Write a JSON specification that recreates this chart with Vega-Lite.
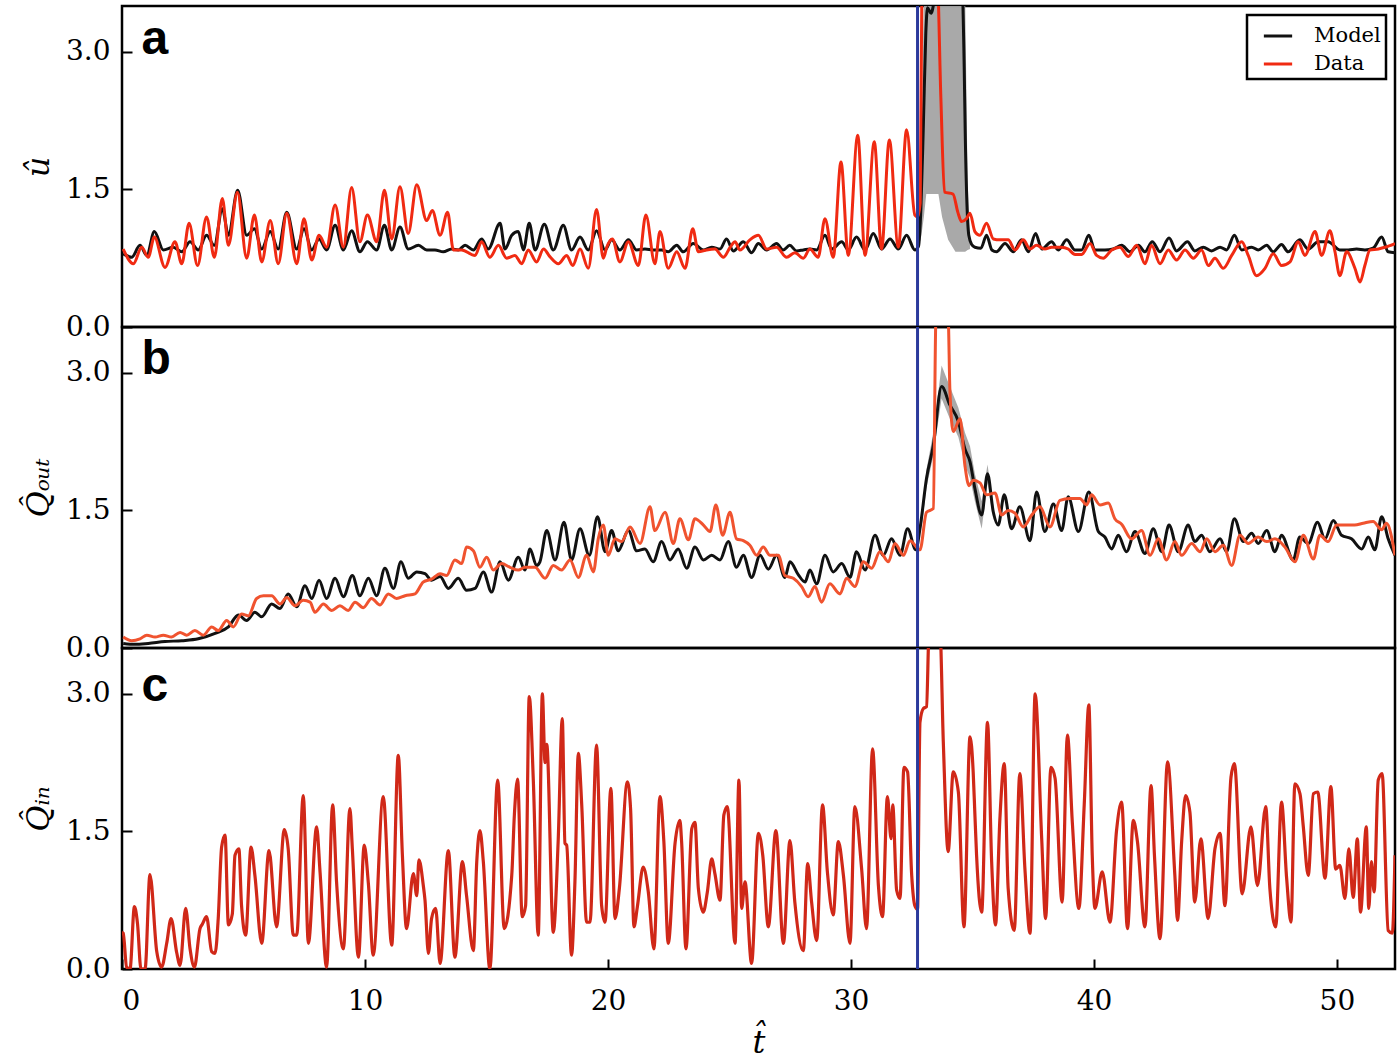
{
"$schema": "https://vega.github.io/schema/vega-lite/v6.json",
"background": "white",
"padding": {"left": 21, "top": 3, "right": 4, "bottom": 0},
"spacing": 0,
"bounds": "flush",
"config": {
  "view": {"stroke": "black", "strokeWidth": 2.5},
  "axis": {"grid": false, "domain": false, "labelFont": "DejaVu Serif", "labelFontSize": 28, "labelColor": "black", "tickColor": "black", "tickWidth": 2, "tickSize": -10, "labelPadding": 22, "titleFont": "DejaVu Serif", "titleFontStyle": "italic", "titleFontWeight": "normal", "titleFontSize": 32, "titleColor": "black", "titlePadding": 10},
  "legend": {"strokeColor": "black", "strokeWidth": 2.5, "fillColor": "white", "padding": 5, "cornerRadius": 0}
},
"datasets": {
  "aModel": [{"t":0.05,"v":0.8},{"t":0.4,"v":0.76},{"t":0.74,"v":0.89},{"t":1.02,"v":0.78},{"t":1.33,"v":1.04},{"t":1.7,"v":0.84},{"t":2.11,"v":0.87},{"t":2.46,"v":0.82},{"t":2.8,"v":0.93},{"t":3.14,"v":0.84},{"t":3.48,"v":1.0},{"t":3.8,"v":0.89},{"t":4.13,"v":1.29},{"t":4.38,"v":1.0},{"t":4.76,"v":1.49},{"t":5.13,"v":1.0},{"t":5.45,"v":1.07},{"t":5.75,"v":0.85},{"t":6.1,"v":1.04},{"t":6.43,"v":0.85},{"t":6.78,"v":1.25},{"t":7.19,"v":0.85},{"t":7.49,"v":1.07},{"t":7.81,"v":0.84},{"t":8.11,"v":0.96},{"t":8.42,"v":0.84},{"t":8.77,"v":1.11},{"t":9.11,"v":0.84},{"t":9.45,"v":1.05},{"t":9.79,"v":0.82},{"t":10.1,"v":0.93},{"t":10.48,"v":0.84},{"t":10.8,"v":1.11},{"t":11.1,"v":0.84},{"t":11.44,"v":1.09},{"t":11.78,"v":0.85},{"t":12.2,"v":0.89},{"t":12.54,"v":0.84},{"t":12.88,"v":0.84},{"t":13.22,"v":0.82},{"t":13.57,"v":0.85},{"t":13.84,"v":0.84},{"t":14.12,"v":0.89},{"t":14.46,"v":0.84},{"t":14.8,"v":0.96},{"t":15.07,"v":0.85},{"t":15.56,"v":1.13},{"t":15.76,"v":0.85},{"t":16.04,"v":1.0},{"t":16.31,"v":1.04},{"t":16.52,"v":0.84},{"t":16.76,"v":1.13},{"t":17.0,"v":0.84},{"t":17.38,"v":1.12},{"t":17.75,"v":0.84},{"t":18.16,"v":1.11},{"t":18.5,"v":0.84},{"t":18.85,"v":0.98},{"t":19.19,"v":0.84},{"t":19.53,"v":1.05},{"t":19.88,"v":0.84},{"t":20.15,"v":0.95},{"t":20.49,"v":0.84},{"t":20.84,"v":0.95},{"t":21.18,"v":0.84},{"t":21.52,"v":0.85},{"t":21.86,"v":0.84},{"t":22.21,"v":0.84},{"t":22.48,"v":0.82},{"t":22.83,"v":0.89},{"t":23.1,"v":0.82},{"t":23.51,"v":0.91},{"t":23.93,"v":0.84},{"t":24.27,"v":0.87},{"t":24.61,"v":0.85},{"t":24.88,"v":0.96},{"t":25.16,"v":0.83},{"t":25.57,"v":0.93},{"t":25.91,"v":0.81},{"t":26.19,"v":0.91},{"t":26.53,"v":0.84},{"t":26.94,"v":0.91},{"t":27.21,"v":0.84},{"t":27.48,"v":0.89},{"t":27.76,"v":0.83},{"t":28.04,"v":0.84},{"t":28.31,"v":0.85},{"t":28.59,"v":0.84},{"t":28.93,"v":1.0},{"t":29.21,"v":0.85},{"t":29.62,"v":0.93},{"t":29.89,"v":0.84},{"t":30.23,"v":0.98},{"t":30.58,"v":0.84},{"t":30.92,"v":1.02},{"t":31.26,"v":0.85},{"t":31.61,"v":0.96},{"t":31.95,"v":0.85},{"t":32.29,"v":1.0},{"t":32.63,"v":0.84},{"t":32.78,"v":0.88},{"t":32.88,"v":1.3},{"t":32.98,"v":2.2},{"t":33.08,"v":3.2},{"t":33.15,"v":3.48},{"t":33.3,"v":3.42},{"t":33.45,"v":3.6},{"t":33.7,"v":4.0},{"t":34.2,"v":4.2},{"t":34.55,"v":3.9},{"t":34.66,"v":2.84},{"t":34.7,"v":2.16},{"t":34.85,"v":1.0},{"t":34.97,"v":0.9},{"t":35.1,"v":0.87},{"t":35.35,"v":0.86},{"t":35.58,"v":1.0},{"t":35.8,"v":0.84},{"t":35.99,"v":0.82},{"t":36.34,"v":0.91},{"t":36.68,"v":0.82},{"t":37.02,"v":0.95},{"t":37.3,"v":0.82},{"t":37.6,"v":1.02},{"t":37.85,"v":0.85},{"t":38.26,"v":0.93},{"t":38.53,"v":0.84},{"t":38.88,"v":0.95},{"t":39.22,"v":0.84},{"t":39.49,"v":0.84},{"t":39.79,"v":1.0},{"t":40.04,"v":0.84},{"t":40.45,"v":0.84},{"t":40.79,"v":0.85},{"t":41.14,"v":0.89},{"t":41.48,"v":0.82},{"t":41.83,"v":0.89},{"t":42.1,"v":0.82},{"t":42.4,"v":0.93},{"t":42.72,"v":0.82},{"t":43.09,"v":0.97},{"t":43.4,"v":0.83},{"t":43.85,"v":0.93},{"t":44.15,"v":0.83},{"t":44.5,"v":0.87},{"t":44.84,"v":0.83},{"t":45.19,"v":0.87},{"t":45.46,"v":0.84},{"t":45.78,"v":1.0},{"t":46.08,"v":0.84},{"t":46.49,"v":0.87},{"t":46.76,"v":0.84},{"t":47.11,"v":0.89},{"t":47.38,"v":0.82},{"t":47.72,"v":0.9},{"t":47.99,"v":0.82},{"t":48.47,"v":0.95},{"t":48.82,"v":0.85},{"t":49.23,"v":0.93},{"t":49.64,"v":0.93},{"t":50.12,"v":0.84},{"t":50.47,"v":0.84},{"t":50.81,"v":0.85},{"t":51.15,"v":0.84},{"t":51.49,"v":0.86},{"t":51.84,"v":0.98},{"t":52.11,"v":0.82},{"t":52.39,"v":0.81}],
  "aData": [{"t":0.05,"v":0.85},{"t":0.47,"v":0.69},{"t":0.81,"v":0.87},{"t":1.08,"v":0.76},{"t":1.33,"v":0.98},{"t":1.77,"v":0.65},{"t":2.18,"v":0.93},{"t":2.46,"v":0.69},{"t":2.76,"v":1.13},{"t":3.11,"v":0.67},{"t":3.48,"v":1.2},{"t":3.8,"v":0.76},{"t":4.13,"v":1.4},{"t":4.38,"v":0.89},{"t":4.75,"v":1.47},{"t":5.13,"v":0.75},{"t":5.45,"v":1.22},{"t":5.75,"v":0.71},{"t":6.1,"v":1.16},{"t":6.43,"v":0.69},{"t":6.78,"v":1.24},{"t":7.19,"v":0.69},{"t":7.49,"v":1.18},{"t":7.81,"v":0.73},{"t":8.11,"v":1.0},{"t":8.42,"v":0.87},{"t":8.77,"v":1.33},{"t":9.11,"v":0.87},{"t":9.45,"v":1.52},{"t":9.79,"v":0.93},{"t":10.1,"v":1.22},{"t":10.48,"v":0.93},{"t":10.8,"v":1.49},{"t":11.1,"v":0.96},{"t":11.44,"v":1.53},{"t":11.78,"v":1.02},{"t":12.13,"v":1.55},{"t":12.54,"v":1.16},{"t":12.77,"v":1.27},{"t":13.09,"v":1.0},{"t":13.4,"v":1.25},{"t":13.64,"v":0.84},{"t":13.98,"v":0.84},{"t":14.53,"v":0.78},{"t":14.8,"v":0.93},{"t":15.14,"v":0.76},{"t":15.49,"v":0.89},{"t":15.83,"v":0.75},{"t":16.17,"v":0.78},{"t":16.45,"v":0.69},{"t":16.72,"v":0.84},{"t":17.06,"v":0.71},{"t":17.35,"v":0.85},{"t":17.6,"v":0.77},{"t":17.96,"v":0.69},{"t":18.3,"v":0.78},{"t":18.55,"v":0.67},{"t":18.85,"v":0.85},{"t":19.19,"v":0.64},{"t":19.53,"v":1.28},{"t":19.81,"v":0.75},{"t":19.95,"v":0.87},{"t":20.18,"v":0.96},{"t":20.49,"v":0.71},{"t":20.84,"v":0.93},{"t":21.25,"v":0.67},{"t":21.56,"v":1.22},{"t":21.93,"v":0.69},{"t":22.14,"v":1.04},{"t":22.48,"v":0.64},{"t":22.83,"v":0.82},{"t":23.17,"v":0.64},{"t":23.49,"v":1.07},{"t":23.72,"v":0.82},{"t":24.06,"v":0.84},{"t":24.4,"v":0.85},{"t":24.75,"v":0.76},{"t":25.03,"v":0.87},{"t":25.23,"v":0.93},{"t":25.43,"v":0.84},{"t":25.84,"v":0.95},{"t":26.19,"v":1.0},{"t":26.53,"v":0.85},{"t":26.94,"v":0.87},{"t":27.35,"v":0.76},{"t":27.69,"v":0.81},{"t":28.04,"v":0.75},{"t":28.31,"v":0.85},{"t":28.65,"v":0.76},{"t":28.93,"v":1.18},{"t":29.27,"v":0.76},{"t":29.59,"v":1.8},{"t":29.89,"v":0.78},{"t":30.28,"v":2.09},{"t":30.58,"v":0.78},{"t":30.96,"v":2.02},{"t":31.26,"v":0.85},{"t":31.58,"v":2.04},{"t":31.95,"v":0.87},{"t":32.29,"v":2.15},{"t":32.63,"v":1.22},{"t":32.74,"v":1.2},{"t":32.85,"v":1.35},{"t":32.92,"v":3.7},{"t":33.55,"v":3.8},{"t":33.7,"v":2.5},{"t":33.85,"v":1.47},{"t":34.2,"v":1.45},{"t":34.4,"v":1.25},{"t":34.55,"v":1.15},{"t":34.75,"v":1.18},{"t":34.9,"v":1.24},{"t":35.1,"v":1.04},{"t":35.31,"v":1.0},{"t":35.58,"v":1.13},{"t":35.86,"v":0.96},{"t":36.13,"v":0.95},{"t":36.47,"v":0.95},{"t":36.75,"v":0.84},{"t":37.09,"v":0.95},{"t":37.37,"v":0.85},{"t":37.64,"v":0.89},{"t":37.98,"v":0.85},{"t":38.26,"v":0.87},{"t":38.67,"v":0.87},{"t":38.94,"v":0.85},{"t":39.22,"v":0.79},{"t":39.49,"v":0.79},{"t":39.84,"v":0.91},{"t":40.11,"v":0.78},{"t":40.38,"v":0.75},{"t":40.73,"v":0.84},{"t":41.07,"v":0.87},{"t":41.41,"v":0.77},{"t":41.76,"v":0.89},{"t":42.1,"v":0.69},{"t":42.37,"v":0.89},{"t":42.72,"v":0.69},{"t":43.06,"v":0.84},{"t":43.4,"v":0.73},{"t":43.75,"v":0.84},{"t":44.09,"v":0.75},{"t":44.43,"v":0.84},{"t":44.71,"v":0.67},{"t":44.98,"v":0.75},{"t":45.32,"v":0.64},{"t":45.67,"v":0.78},{"t":46.08,"v":0.93},{"t":46.35,"v":0.78},{"t":46.69,"v":0.56},{"t":47.04,"v":0.64},{"t":47.38,"v":0.8},{"t":47.72,"v":0.67},{"t":48.07,"v":0.71},{"t":48.41,"v":0.93},{"t":48.68,"v":0.78},{"t":49.1,"v":1.04},{"t":49.37,"v":0.78},{"t":49.71,"v":1.05},{"t":49.92,"v":0.82},{"t":50.12,"v":0.56},{"t":50.4,"v":0.82},{"t":50.74,"v":0.64},{"t":50.95,"v":0.49},{"t":51.15,"v":0.67},{"t":51.36,"v":0.84},{"t":51.71,"v":0.85},{"t":51.98,"v":0.87},{"t":52.39,"v":0.91}],
  "aBand": [{"t":32.76,"v":0.84,"v2":0.9},{"t":32.9,"v":1.0,"v2":2.0},{"t":33.0,"v":1.2,"v2":3.6},{"t":33.1,"v":1.45,"v2":3.6},{"t":33.6,"v":1.45,"v2":3.6},{"t":33.75,"v":1.2,"v2":3.6},{"t":34.0,"v":0.95,"v2":3.6},{"t":34.3,"v":0.82,"v2":3.6},{"t":34.7,"v":0.82,"v2":3.6},{"t":34.8,"v":0.84,"v2":1.6},{"t":34.9,"v":0.85,"v2":0.95}],
  "bModel": [{"t":0.05,"v":0.05},{"t":0.53,"v":0.04},{"t":1.08,"v":0.05},{"t":1.77,"v":0.07},{"t":2.46,"v":0.08},{"t":3.14,"v":0.1},{"t":3.83,"v":0.16},{"t":4.38,"v":0.23},{"t":4.79,"v":0.36},{"t":5.13,"v":0.3},{"t":5.47,"v":0.39},{"t":5.75,"v":0.34},{"t":6.16,"v":0.48},{"t":6.5,"v":0.43},{"t":6.84,"v":0.59},{"t":7.19,"v":0.45},{"t":7.53,"v":0.68},{"t":7.81,"v":0.54},{"t":8.11,"v":0.74},{"t":8.42,"v":0.54},{"t":8.77,"v":0.76},{"t":9.11,"v":0.56},{"t":9.48,"v":0.79},{"t":9.79,"v":0.57},{"t":10.14,"v":0.76},{"t":10.48,"v":0.57},{"t":10.82,"v":0.87},{"t":11.17,"v":0.65},{"t":11.48,"v":0.94},{"t":11.78,"v":0.76},{"t":12.13,"v":0.83},{"t":12.47,"v":0.81},{"t":12.74,"v":0.74},{"t":13.09,"v":0.78},{"t":13.43,"v":0.65},{"t":13.84,"v":0.76},{"t":14.18,"v":0.63},{"t":14.53,"v":0.65},{"t":14.87,"v":0.83},{"t":15.21,"v":0.61},{"t":15.56,"v":0.94},{"t":15.9,"v":0.74},{"t":16.31,"v":0.99},{"t":16.58,"v":0.85},{"t":16.79,"v":1.08},{"t":17.06,"v":0.9},{"t":17.2,"v":0.94},{"t":17.48,"v":1.28},{"t":17.82,"v":0.96},{"t":18.19,"v":1.37},{"t":18.5,"v":0.96},{"t":18.85,"v":1.3},{"t":19.23,"v":1.01},{"t":19.57,"v":1.43},{"t":19.88,"v":1.05},{"t":20.15,"v":1.28},{"t":20.42,"v":1.06},{"t":20.84,"v":1.28},{"t":21.18,"v":1.06},{"t":21.52,"v":1.08},{"t":21.86,"v":0.94},{"t":22.21,"v":1.16},{"t":22.55,"v":0.96},{"t":22.89,"v":1.08},{"t":23.24,"v":0.87},{"t":23.58,"v":1.1},{"t":23.93,"v":0.96},{"t":24.27,"v":1.01},{"t":24.61,"v":0.96},{"t":24.95,"v":1.16},{"t":25.29,"v":0.88},{"t":25.57,"v":1.01},{"t":25.91,"v":0.77},{"t":26.26,"v":1.01},{"t":26.6,"v":0.86},{"t":26.94,"v":1.01},{"t":27.28,"v":0.77},{"t":27.49,"v":0.94},{"t":27.83,"v":0.8},{"t":28.11,"v":0.72},{"t":28.31,"v":0.85},{"t":28.59,"v":0.7},{"t":28.93,"v":1.01},{"t":29.27,"v":0.83},{"t":29.62,"v":0.92},{"t":29.96,"v":0.77},{"t":30.23,"v":1.05},{"t":30.58,"v":0.85},{"t":30.99,"v":1.23},{"t":31.33,"v":1.01},{"t":31.67,"v":1.19},{"t":32.02,"v":1.01},{"t":32.33,"v":1.3},{"t":32.67,"v":1.07},{"t":32.84,"v":1.3},{"t":33.11,"v":1.85},{"t":33.39,"v":2.21},{"t":33.73,"v":2.85},{"t":34.07,"v":2.65},{"t":34.42,"v":2.47},{"t":34.69,"v":2.17},{"t":34.9,"v":2.03},{"t":35.1,"v":1.74},{"t":35.38,"v":1.45},{"t":35.62,"v":1.9},{"t":35.86,"v":1.48},{"t":36.06,"v":1.34},{"t":36.31,"v":1.67},{"t":36.61,"v":1.3},{"t":36.95,"v":1.54},{"t":37.37,"v":1.17},{"t":37.64,"v":1.7},{"t":37.98,"v":1.27},{"t":38.33,"v":1.57},{"t":38.67,"v":1.28},{"t":38.94,"v":1.65},{"t":39.36,"v":1.27},{"t":39.79,"v":1.7},{"t":40.18,"v":1.27},{"t":40.45,"v":1.21},{"t":40.73,"v":1.08},{"t":41.0,"v":1.23},{"t":41.34,"v":1.05},{"t":41.69,"v":1.27},{"t":42.1,"v":1.03},{"t":42.44,"v":1.3},{"t":42.79,"v":1.05},{"t":43.09,"v":1.34},{"t":43.47,"v":1.05},{"t":43.88,"v":1.34},{"t":44.15,"v":1.16},{"t":44.43,"v":1.23},{"t":44.77,"v":1.05},{"t":45.19,"v":1.19},{"t":45.46,"v":1.05},{"t":45.78,"v":1.41},{"t":46.15,"v":1.16},{"t":46.49,"v":1.25},{"t":46.76,"v":1.14},{"t":47.11,"v":1.28},{"t":47.45,"v":1.05},{"t":47.72,"v":1.23},{"t":48.2,"v":0.96},{"t":48.47,"v":1.21},{"t":48.82,"v":1.14},{"t":49.2,"v":1.37},{"t":49.51,"v":1.19},{"t":49.85,"v":1.39},{"t":50.19,"v":1.23},{"t":50.6,"v":1.19},{"t":51.02,"v":1.08},{"t":51.29,"v":1.21},{"t":51.56,"v":1.07},{"t":51.84,"v":1.43},{"t":52.11,"v":1.19},{"t":52.39,"v":1.01}],
  "bData": [{"t":0.05,"v":0.12},{"t":0.4,"v":0.08},{"t":0.74,"v":0.1},{"t":1.02,"v":0.14},{"t":1.36,"v":0.12},{"t":1.7,"v":0.14},{"t":2.04,"v":0.12},{"t":2.39,"v":0.17},{"t":2.66,"v":0.14},{"t":3.0,"v":0.19},{"t":3.35,"v":0.14},{"t":3.69,"v":0.23},{"t":3.96,"v":0.19},{"t":4.31,"v":0.3},{"t":4.58,"v":0.23},{"t":4.92,"v":0.37},{"t":5.2,"v":0.35},{"t":5.54,"v":0.54},{"t":5.82,"v":0.57},{"t":6.16,"v":0.57},{"t":6.5,"v":0.48},{"t":6.78,"v":0.55},{"t":7.12,"v":0.46},{"t":7.46,"v":0.52},{"t":7.74,"v":0.5},{"t":7.94,"v":0.39},{"t":8.29,"v":0.48},{"t":8.63,"v":0.41},{"t":8.97,"v":0.46},{"t":9.31,"v":0.41},{"t":9.59,"v":0.5},{"t":9.93,"v":0.44},{"t":10.27,"v":0.54},{"t":10.62,"v":0.47},{"t":10.96,"v":0.59},{"t":11.3,"v":0.54},{"t":11.65,"v":0.57},{"t":12.06,"v":0.59},{"t":12.4,"v":0.72},{"t":12.74,"v":0.75},{"t":13.09,"v":0.81},{"t":13.36,"v":0.79},{"t":13.7,"v":0.96},{"t":13.98,"v":0.92},{"t":14.18,"v":1.1},{"t":14.46,"v":1.06},{"t":14.73,"v":0.88},{"t":15.01,"v":0.99},{"t":15.28,"v":0.85},{"t":15.62,"v":0.92},{"t":15.97,"v":0.88},{"t":16.31,"v":0.85},{"t":16.58,"v":0.88},{"t":17.0,"v":0.88},{"t":17.41,"v":0.76},{"t":17.75,"v":0.9},{"t":18.09,"v":0.85},{"t":18.44,"v":0.96},{"t":18.78,"v":0.77},{"t":19.12,"v":1.01},{"t":19.4,"v":0.83},{"t":19.6,"v":1.19},{"t":19.81,"v":1.34},{"t":20.01,"v":1.01},{"t":20.29,"v":1.19},{"t":20.56,"v":1.16},{"t":20.91,"v":1.32},{"t":21.32,"v":1.14},{"t":21.73,"v":1.54},{"t":21.93,"v":1.28},{"t":22.35,"v":1.48},{"t":22.69,"v":1.14},{"t":22.96,"v":1.41},{"t":23.31,"v":1.18},{"t":23.58,"v":1.41},{"t":23.93,"v":1.34},{"t":24.2,"v":1.27},{"t":24.44,"v":1.56},{"t":24.72,"v":1.23},{"t":25.02,"v":1.48},{"t":25.29,"v":1.19},{"t":25.57,"v":1.17},{"t":25.84,"v":1.12},{"t":26.12,"v":1.01},{"t":26.39,"v":1.1},{"t":26.67,"v":1.01},{"t":27.01,"v":1.01},{"t":27.28,"v":0.79},{"t":27.63,"v":0.76},{"t":27.97,"v":0.67},{"t":28.24,"v":0.56},{"t":28.52,"v":0.67},{"t":28.79,"v":0.5},{"t":29.13,"v":0.7},{"t":29.55,"v":0.59},{"t":29.82,"v":0.76},{"t":30.16,"v":0.67},{"t":30.51,"v":0.94},{"t":30.85,"v":0.87},{"t":31.19,"v":1.05},{"t":31.54,"v":0.94},{"t":31.81,"v":1.14},{"t":32.16,"v":1.01},{"t":32.43,"v":1.17},{"t":32.84,"v":1.07},{"t":33.11,"v":1.48},{"t":33.39,"v":1.52},{"t":33.5,"v":3.6},{"t":34.0,"v":3.6},{"t":34.07,"v":2.83},{"t":34.21,"v":2.36},{"t":34.49,"v":2.5},{"t":34.69,"v":1.99},{"t":34.86,"v":1.77},{"t":35.03,"v":1.83},{"t":35.31,"v":1.8},{"t":35.58,"v":1.67},{"t":35.93,"v":1.69},{"t":36.2,"v":1.45},{"t":36.47,"v":1.5},{"t":36.75,"v":1.47},{"t":37.09,"v":1.32},{"t":37.44,"v":1.45},{"t":37.78,"v":1.54},{"t":38.19,"v":1.32},{"t":38.6,"v":1.61},{"t":39.01,"v":1.63},{"t":39.42,"v":1.63},{"t":39.7,"v":1.56},{"t":39.9,"v":1.67},{"t":40.25,"v":1.56},{"t":40.59,"v":1.58},{"t":40.86,"v":1.41},{"t":41.14,"v":1.35},{"t":41.55,"v":1.19},{"t":41.96,"v":1.28},{"t":42.31,"v":1.01},{"t":42.65,"v":1.19},{"t":42.99,"v":0.96},{"t":43.33,"v":1.16},{"t":43.61,"v":1.01},{"t":44.02,"v":1.14},{"t":44.37,"v":1.05},{"t":44.64,"v":1.19},{"t":44.98,"v":1.05},{"t":45.32,"v":1.12},{"t":45.67,"v":0.9},{"t":46.01,"v":1.23},{"t":46.35,"v":1.14},{"t":46.76,"v":1.21},{"t":47.11,"v":1.16},{"t":47.45,"v":1.19},{"t":47.86,"v":1.1},{"t":48.27,"v":0.94},{"t":48.62,"v":1.23},{"t":49.03,"v":0.97},{"t":49.3,"v":1.23},{"t":49.64,"v":1.16},{"t":49.99,"v":1.34},{"t":50.33,"v":1.34},{"t":50.73,"v":1.34},{"t":51.08,"v":1.36},{"t":51.49,"v":1.38},{"t":51.84,"v":1.29},{"t":52.04,"v":1.36},{"t":52.39,"v":1.01}],
  "bBand": [{"t":32.9,"v":1.3,"v2":1.4},{"t":33.11,"v":1.75,"v2":1.95},{"t":33.39,"v":2.1,"v2":2.35},{"t":33.73,"v":2.72,"v2":3.08},{"t":34.07,"v":2.5,"v2":2.85},{"t":34.42,"v":2.3,"v2":2.62},{"t":34.69,"v":2.0,"v2":2.35},{"t":34.9,"v":1.85,"v2":2.2},{"t":35.1,"v":1.6,"v2":1.9},{"t":35.38,"v":1.3,"v2":1.6},{"t":35.62,"v":1.8,"v2":2.0},{"t":35.86,"v":1.4,"v2":1.55}],
  "cData": [{"t":0.0,"v":0.4},{"t":0.05,"v":0.39},{"t":0.19,"v":0.02},{"t":0.33,"v":0.0},{"t":0.51,"v":0.68},{"t":0.64,"v":0.49},{"t":0.78,"v":0.0},{"t":0.95,"v":0.0},{"t":1.15,"v":1.03},{"t":1.43,"v":0.19},{"t":1.63,"v":0.02},{"t":1.84,"v":0.28},{"t":2.02,"v":0.55},{"t":2.25,"v":0.18},{"t":2.39,"v":0.04},{"t":2.62,"v":0.66},{"t":2.8,"v":0.22},{"t":2.98,"v":0.02},{"t":3.21,"v":0.44},{"t":3.31,"v":0.49},{"t":3.48,"v":0.57},{"t":3.69,"v":0.19},{"t":3.83,"v":0.17},{"t":3.96,"v":0.55},{"t":4.1,"v":1.33},{"t":4.24,"v":1.46},{"t":4.38,"v":0.48},{"t":4.54,"v":0.6},{"t":4.65,"v":1.24},{"t":4.81,"v":1.31},{"t":4.92,"v":0.69},{"t":5.09,"v":0.37},{"t":5.31,"v":1.33},{"t":5.47,"v":1.02},{"t":5.75,"v":0.28},{"t":6.05,"v":1.29},{"t":6.36,"v":0.46},{"t":6.68,"v":1.52},{"t":6.84,"v":1.31},{"t":7.05,"v":0.37},{"t":7.19,"v":0.37},{"t":7.46,"v":1.89},{"t":7.67,"v":0.28},{"t":8.01,"v":1.55},{"t":8.15,"v":1.06},{"t":8.42,"v":0.02},{"t":8.67,"v":1.79},{"t":8.83,"v":0.95},{"t":9.11,"v":0.22},{"t":9.38,"v":1.75},{"t":9.48,"v":1.31},{"t":9.73,"v":0.13},{"t":9.97,"v":1.35},{"t":10.14,"v":0.93},{"t":10.34,"v":0.15},{"t":10.75,"v":1.88},{"t":11.1,"v":0.26},{"t":11.37,"v":2.33},{"t":11.54,"v":1.24},{"t":11.71,"v":0.44},{"t":11.99,"v":1.04},{"t":12.13,"v":0.8},{"t":12.22,"v":1.19},{"t":12.4,"v":0.91},{"t":12.47,"v":0.75},{"t":12.61,"v":0.17},{"t":12.74,"v":0.55},{"t":12.91,"v":0.66},{"t":13.09,"v":0.06},{"t":13.43,"v":1.29},{"t":13.7,"v":0.13},{"t":14.01,"v":1.17},{"t":14.18,"v":0.8},{"t":14.46,"v":0.2},{"t":14.6,"v":1.17},{"t":14.73,"v":1.51},{"t":14.87,"v":1.17},{"t":15.14,"v":0.0},{"t":15.46,"v":2.06},{"t":15.73,"v":0.44},{"t":16.04,"v":1.02},{"t":16.15,"v":1.69},{"t":16.28,"v":2.07},{"t":16.47,"v":0.57},{"t":16.61,"v":0.69},{"t":16.76,"v":2.97},{"t":16.93,"v":2.04},{"t":17.13,"v":0.37},{"t":17.3,"v":3.0},{"t":17.41,"v":2.25},{"t":17.48,"v":2.45},{"t":17.75,"v":0.4},{"t":17.95,"v":1.39},{"t":18.12,"v":2.73},{"t":18.23,"v":1.37},{"t":18.3,"v":1.35},{"t":18.5,"v":0.15},{"t":18.64,"v":0.95},{"t":18.78,"v":2.35},{"t":18.92,"v":1.79},{"t":19.12,"v":0.51},{"t":19.26,"v":0.51},{"t":19.53,"v":2.44},{"t":19.74,"v":0.69},{"t":19.88,"v":0.51},{"t":20.12,"v":1.97},{"t":20.29,"v":0.55},{"t":20.47,"v":0.88},{"t":20.8,"v":2.04},{"t":20.93,"v":1.75},{"t":21.07,"v":0.46},{"t":21.21,"v":0.68},{"t":21.45,"v":1.11},{"t":21.66,"v":0.84},{"t":21.89,"v":0.22},{"t":22.14,"v":1.88},{"t":22.3,"v":1.39},{"t":22.48,"v":0.28},{"t":22.76,"v":1.37},{"t":22.96,"v":1.62},{"t":23.03,"v":1.39},{"t":23.21,"v":0.22},{"t":23.45,"v":1.53},{"t":23.58,"v":1.6},{"t":23.72,"v":0.88},{"t":23.92,"v":0.62},{"t":24.09,"v":0.84},{"t":24.27,"v":1.2},{"t":24.4,"v":1.04},{"t":24.61,"v":0.75},{"t":24.77,"v":1.68},{"t":24.91,"v":1.77},{"t":25.23,"v":0.28},{"t":25.39,"v":2.06},{"t":25.5,"v":0.66},{"t":25.64,"v":0.95},{"t":25.91,"v":0.06},{"t":26.19,"v":1.48},{"t":26.37,"v":1.24},{"t":26.6,"v":0.46},{"t":26.91,"v":1.51},{"t":27.22,"v":0.28},{"t":27.49,"v":1.4},{"t":27.69,"v":0.73},{"t":28.04,"v":0.2},{"t":28.22,"v":1.15},{"t":28.38,"v":0.73},{"t":28.59,"v":0.31},{"t":28.83,"v":1.79},{"t":29.03,"v":1.06},{"t":29.27,"v":0.59},{"t":29.48,"v":1.39},{"t":29.69,"v":1.02},{"t":29.96,"v":0.28},{"t":30.16,"v":1.77},{"t":30.44,"v":1.09},{"t":30.64,"v":0.44},{"t":30.89,"v":2.4},{"t":31.13,"v":0.91},{"t":31.3,"v":0.57},{"t":31.5,"v":1.88},{"t":31.65,"v":1.42},{"t":31.72,"v":1.79},{"t":31.88,"v":0.86},{"t":32.02,"v":0.77},{"t":32.18,"v":2.2},{"t":32.33,"v":2.15},{"t":32.5,"v":1.02},{"t":32.63,"v":0.69},{"t":32.74,"v":0.65},{"t":32.84,"v":2.69},{"t":32.98,"v":2.84},{"t":33.11,"v":2.86},{"t":33.22,"v":3.7},{"t":33.66,"v":3.7},{"t":33.8,"v":2.48},{"t":34.0,"v":1.28},{"t":34.21,"v":2.15},{"t":34.42,"v":1.93},{"t":34.65,"v":0.46},{"t":34.9,"v":2.53},{"t":35.03,"v":2.15},{"t":35.1,"v":1.69},{"t":35.17,"v":1.24},{"t":35.38,"v":0.62},{"t":35.62,"v":2.69},{"t":35.79,"v":1.17},{"t":35.95,"v":0.48},{"t":36.13,"v":1.64},{"t":36.31,"v":2.24},{"t":36.47,"v":0.88},{"t":36.72,"v":0.42},{"t":36.95,"v":2.13},{"t":37.16,"v":1.09},{"t":37.37,"v":0.39},{"t":37.58,"v":3.0},{"t":37.85,"v":1.42},{"t":38.01,"v":0.55},{"t":38.23,"v":2.2},{"t":38.4,"v":2.08},{"t":38.69,"v":0.73},{"t":38.91,"v":2.55},{"t":39.11,"v":1.6},{"t":39.38,"v":0.66},{"t":39.6,"v":1.79},{"t":39.79,"v":2.88},{"t":39.93,"v":1.24},{"t":40.04,"v":0.66},{"t":40.34,"v":1.06},{"t":40.66,"v":0.51},{"t":40.93,"v":1.51},{"t":41.14,"v":1.82},{"t":41.38,"v":0.44},{"t":41.62,"v":1.62},{"t":41.79,"v":1.39},{"t":42.1,"v":0.46},{"t":42.35,"v":2.0},{"t":42.49,"v":1.24},{"t":42.72,"v":0.33},{"t":43.03,"v":2.26},{"t":43.33,"v":1.02},{"t":43.44,"v":0.53},{"t":43.61,"v":1.39},{"t":43.77,"v":1.89},{"t":43.95,"v":1.71},{"t":44.15,"v":0.73},{"t":44.4,"v":1.42},{"t":44.7,"v":0.55},{"t":44.98,"v":1.31},{"t":45.19,"v":1.48},{"t":45.39,"v":0.69},{"t":45.64,"v":2.09},{"t":45.78,"v":2.24},{"t":46.1,"v":0.82},{"t":46.46,"v":1.55},{"t":46.73,"v":0.91},{"t":47.07,"v":1.77},{"t":47.24,"v":0.88},{"t":47.48,"v":0.46},{"t":47.72,"v":1.82},{"t":47.93,"v":0.99},{"t":48.11,"v":0.51},{"t":48.27,"v":2.02},{"t":48.48,"v":1.91},{"t":48.61,"v":1.57},{"t":48.82,"v":1.02},{"t":49.03,"v":1.91},{"t":49.21,"v":1.93},{"t":49.51,"v":0.99},{"t":49.75,"v":1.99},{"t":49.95,"v":1.09},{"t":50.12,"v":1.13},{"t":50.33,"v":0.77},{"t":50.49,"v":1.31},{"t":50.67,"v":0.78},{"t":50.84,"v":1.42},{"t":50.97,"v":0.62},{"t":51.21,"v":1.55},{"t":51.31,"v":0.66},{"t":51.42,"v":1.17},{"t":51.53,"v":0.84},{"t":51.7,"v":2.06},{"t":51.86,"v":2.13},{"t":52.11,"v":0.42},{"t":52.28,"v":0.39},{"t":52.39,"v":1.24}]
},
"resolve": {"scale": {"color": "independent"}, "legend": {"color": "independent"}},
"vconcat": [
  {
    "width": 1273, "height": 321,
    "layer": [
      {"data": {"name": "aBand"}, "mark": {"type": "area", "color": "#a4a4a4", "opacity": 0.95, "clip": true},
       "encoding": {"x": {"field": "t", "type": "quantitative", "scale": {"domain": [0, 52.39], "nice": false, "zero": false}, "axis": null},
                    "y": {"field": "v", "type": "quantitative", "scale": {"domain": [0, 3.5], "nice": false, "zero": false}, "axis": {"values": [0, 1.5, 3], "format": ".1f", "title": "û"}},
                    "y2": {"field": "v2"}}},
      {"data": {"name": "aModel"}, "mark": {"type": "line", "strokeWidth": 3, "clip": true, "interpolate": "monotone"},
       "encoding": {"x": {"field": "t", "type": "quantitative", "axis": null},
                    "y": {"field": "v", "type": "quantitative", "axis": {"values": [0, 1.5, 3], "format": ".1f", "title": "û"}},
                    "color": {"datum": "Model", "type": "nominal", "scale": {"domain": ["Model", "Data"], "range": ["#111111", "#f02a12"]},
                              "legend": {"orient": "top-right", "title": null, "offset": 9, "symbolType": "stroke", "symbolSize": 800, "symbolOffset": 10, "symbolStrokeWidth": 3, "labelFont": "DejaVu Serif", "labelFontSize": 21, "labelColor": "black", "rowPadding": 2, "labelOffset": 20}}}},
      {"data": {"name": "aData"}, "mark": {"type": "line", "strokeWidth": 3, "clip": true, "interpolate": "monotone"},
       "encoding": {"x": {"field": "t", "type": "quantitative", "axis": null},
                    "y": {"field": "v", "type": "quantitative", "axis": {"values": [0, 1.5, 3], "format": ".1f", "title": "û"}},
                    "color": {"datum": "Data", "type": "nominal"}}},
      {"data": {"values": [{}]}, "mark": {"type": "rule", "color": "#2b3a9c", "strokeWidth": 3},
       "encoding": {"x": {"datum": 32.74, "type": "quantitative"}}},
      {"data": {"values": [{"label": "a"}]}, "mark": {"type": "text", "font": "Liberation Sans", "fontWeight": "bold", "fontSize": 48, "align": "left", "baseline": "alphabetic", "color": "black"},
       "encoding": {"x": {"datum": 0.8, "type": "quantitative"}, "y": {"datum": 2.98, "type": "quantitative"}, "text": {"field": "label"}}}
    ]
  },
  {
    "width": 1273, "height": 321,
    "layer": [
      {"data": {"name": "bBand"}, "mark": {"type": "area", "color": "#a4a4a4", "opacity": 0.95, "clip": true},
       "encoding": {"x": {"field": "t", "type": "quantitative", "scale": {"domain": [0, 52.39], "nice": false, "zero": false}, "axis": null},
                    "y": {"field": "v", "type": "quantitative", "scale": {"domain": [0, 3.5], "nice": false, "zero": false}, "axis": {"values": [0, 1.5, 3], "format": ".1f", "title": "Q̂ₒᵤₜ"}},
                    "y2": {"field": "v2"}}},
      {"data": {"name": "bModel"}, "mark": {"type": "line", "strokeWidth": 3, "clip": true, "interpolate": "monotone"},
       "encoding": {"x": {"field": "t", "type": "quantitative", "axis": null},
                    "y": {"field": "v", "type": "quantitative", "axis": {"values": [0, 1.5, 3], "format": ".1f", "title": "Q̂ₒᵤₜ"}},
                    "color": {"datum": "Model", "type": "nominal", "scale": {"domain": ["Model", "Data"], "range": ["#111111", "#f0532f"]}, "legend": null}}},
      {"data": {"name": "bData"}, "mark": {"type": "line", "strokeWidth": 3, "clip": true, "interpolate": "monotone"},
       "encoding": {"x": {"field": "t", "type": "quantitative", "axis": null},
                    "y": {"field": "v", "type": "quantitative", "axis": {"values": [0, 1.5, 3], "format": ".1f", "title": "Q̂ₒᵤₜ"}},
                    "color": {"datum": "Data", "type": "nominal", "legend": null}}},
      {"data": {"values": [{}]}, "mark": {"type": "rule", "color": "#2b3a9c", "strokeWidth": 3},
       "encoding": {"x": {"datum": 32.74, "type": "quantitative"}}},
      {"data": {"values": [{"label": "b"}]}, "mark": {"type": "text", "font": "Liberation Sans", "fontWeight": "bold", "fontSize": 48, "align": "left", "baseline": "alphabetic", "color": "black"},
       "encoding": {"x": {"datum": 0.8, "type": "quantitative"}, "y": {"datum": 2.99, "type": "quantitative"}, "text": {"field": "label"}}}
    ]
  },
  {
    "width": 1273, "height": 321,
    "layer": [
      {"data": {"name": "cData"}, "mark": {"type": "line", "strokeWidth": 3.2, "clip": true, "interpolate": "monotone"},
       "encoding": {"x": {"field": "t", "type": "quantitative", "scale": {"domain": [0, 52.39], "nice": false, "zero": false}, "axis": {"values": [0, 10, 20, 30, 40, 50], "format": "d", "title": "t̂", "labelPadding": 28, "titlePadding": 12}},
                    "y": {"field": "v", "type": "quantitative", "scale": {"domain": [0, 3.5], "nice": false, "zero": false}, "axis": {"values": [0, 1.5, 3], "format": ".1f", "title": "Q̂ᵢₙ"}},
                    "color": {"datum": "Data", "type": "nominal", "scale": {"domain": ["Model", "Data"], "range": ["#111111", "#d02818"]}, "legend": null}}},
      {"data": {"values": [{}]}, "mark": {"type": "rule", "color": "#2b3a9c", "strokeWidth": 3},
       "encoding": {"x": {"datum": 32.74, "type": "quantitative"}}},
      {"data": {"values": [{"label": "c"}]}, "mark": {"type": "text", "font": "Liberation Sans", "fontWeight": "bold", "fontSize": 48, "align": "left", "baseline": "alphabetic", "color": "black"},
       "encoding": {"x": {"datum": 0.8, "type": "quantitative"}, "y": {"datum": 2.92, "type": "quantitative"}, "text": {"field": "label"}}}
    ]
  }
]
}
